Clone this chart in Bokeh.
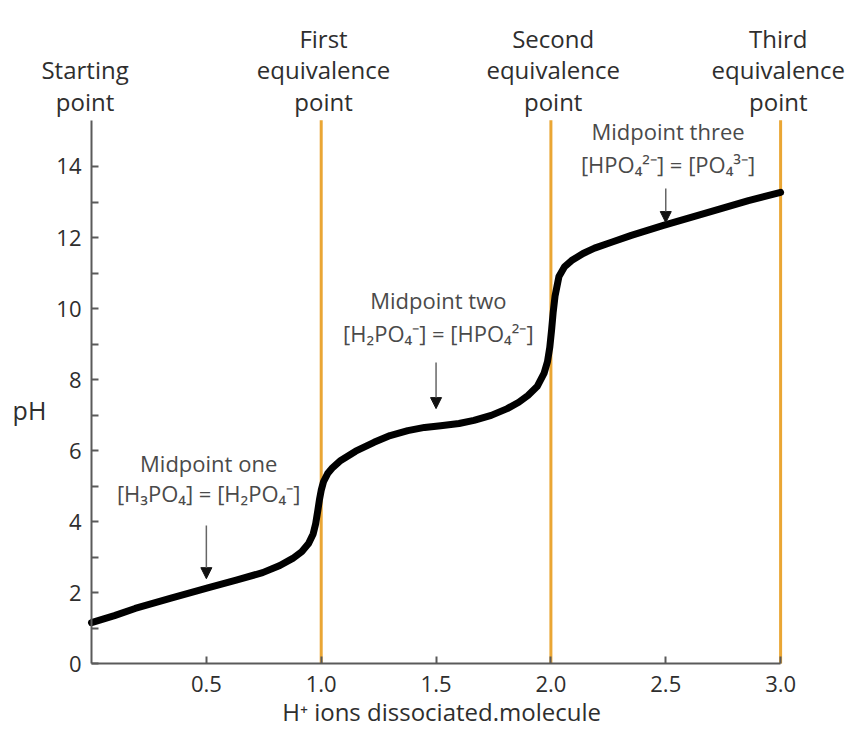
from bokeh.plotting import figure
from bokeh.models import Arrow, NormalHead, FixedTicker
from bokeh.embed import file_html
from bokeh.resources import INLINE
from bokeh.core.properties import value

# ---------------- data ----------------
curve_x = [0.00, 0.10, 0.19, 0.35, 0.51, 0.63, 0.745, 0.82, 0.876, 0.915, 0.945,
           0.965, 0.976, 0.985, 0.992, 1.000, 1.010, 1.028, 1.05, 1.085, 1.15,
           1.23, 1.30, 1.377, 1.45, 1.52, 1.60, 1.665, 1.74, 1.81, 1.86, 1.90,
           1.94, 1.97, 1.985, 1.995, 2.003, 2.010, 2.018, 2.035, 2.06, 2.09,
           2.14, 2.19, 2.27, 2.35, 2.49, 2.67, 2.86, 3.00]
curve_ph = [1.15, 1.35, 1.55, 1.85, 2.14, 2.35, 2.56, 2.76, 2.96, 3.15, 3.38,
            3.65, 3.94, 4.30, 4.60, 4.88, 5.12, 5.35, 5.52, 5.72, 5.98,
            6.23, 6.42, 6.56, 6.65, 6.70, 6.76, 6.85, 6.99, 7.18, 7.36, 7.55,
            7.80, 8.17, 8.50, 8.90, 9.40, 9.90, 10.35, 10.90, 11.18, 11.35,
            11.55, 11.70, 11.88, 12.06, 12.34, 12.68, 13.04, 13.27]

equiv_x = [1.0, 2.0, 3.0]
x_ticks = [0.5, 1.0, 1.5, 2.0, 2.5, 3.0]
x_tick_labels = ["0.5", "1.0", "1.5", "2.0", "2.5", "3.0"]
y_ticks = [0, 2, 4, 6, 8, 10, 12, 14]
y_minor_ticks = [1, 3, 5, 7, 9, 11, 13]

start_label = ["Starting", "point"]
equiv_labels = [["First", "equivalence", "point"],
                ["Second", "equivalence", "point"],
                ["Third", "equivalence", "point"]]

mid_x = [0.5, 1.5, 2.5]
mid_titles = ["Midpoint one", "Midpoint two", "Midpoint three"]
mid_formulas = ["[H\u2083PO\u2084] = [H\u2082PO\u2084\u207b]",
                "[H\u2082PO\u2084\u207b] = [HPO\u2084\u00b2\u207b]",
                "[HPO\u2084\u00b2\u207b] = [PO\u2084\u00b3\u207b]"]

x_title = "H\u207a ions dissociated.molecule"
y_title = "pH"

# ---------------- layout constants ----------------
FONT = "Open Sans"
TXT = "#2e2e2e"
MID = "#4a4a4a"
ORANGE = "#EAA634"
AXIS = "#5a5a5a"
Y_TOP_AXIS = 15.3

p = figure(width=850, height=729, output_backend="svg", toolbar_location=None,
           x_range=(-0.3962, 3.3043), y_range=(-1.859, 18.676),
           min_border=0)
p.grid.visible = False
p.outline_line_color = None
p.background_fill_color = "white"

# axes drawn at the data origin
xa = p.xaxis[0]
xa.ticker = FixedTicker(ticks=x_ticks, minor_ticks=[])
xa.major_label_overrides = {t: l for t, l in zip(x_ticks, x_tick_labels)}
xa.bounds = (0, 3.0)
xa.fixed_location = 0
ya = p.yaxis[0]
ya.ticker = FixedTicker(ticks=y_ticks, minor_ticks=y_minor_ticks)
ya.bounds = (0, Y_TOP_AXIS)
ya.fixed_location = 0
for ax in (xa, ya):
    ax.axis_line_color = AXIS
    ax.axis_line_width = 2
    ax.major_tick_in = 7
    ax.major_tick_out = 0
    ax.minor_tick_in = 7
    ax.minor_tick_out = 0
    ax.major_tick_line_color = AXIS
    ax.minor_tick_line_color = AXIS
    ax.major_tick_line_width = 2
    ax.minor_tick_line_width = 2
    ax.major_label_text_font = FONT
    ax.major_label_text_font_size = "22px"
    ax.major_label_text_color = TXT
xa.major_label_standoff = 12
ya.major_label_standoff = 10

# equivalence lines
p.segment(x0=equiv_x, y0=[0] * 3, x1=equiv_x, y1=[Y_TOP_AXIS] * 3,
          line_color=ORANGE, line_width=3)

# titration curve
p.line(curve_x, curve_ph, line_color="black", line_width=7,
       line_join="round", line_cap="round")

# top labels
line_y = [17.6, 16.73, 15.83]
tx, ty, tt = [], [], []
for ex, lines in zip(equiv_x, equiv_labels):
    for k, s in enumerate(lines):
        tx.append(ex - 0.01 if ex == 3.0 else ex + 0.01)
        ty.append(line_y[k])
        tt.append(s)
for k, s in enumerate(start_label):
    tx.append(-0.028)
    ty.append(line_y[k + 1])
    tt.append(s)
p.text(x=tx, y=ty, text=tt, text_font=value(FONT), text_font_size="24px",
       text_align="center", text_baseline="middle", text_color=TXT)

# midpoint annotations
title_y = [5.66, 10.23, 14.99]
form_y = [4.79, 9.32, 14.08]
arrow_top = [3.89, 8.48, 13.38]
arrow_tip = [2.39, 7.18, 12.42]
p.text(x=[m + 0.01 for m in mid_x], y=title_y, text=mid_titles,
       text_font=value(FONT), text_font_size="22px", text_align="center",
       text_baseline="middle", text_color=MID)
p.text(x=[m + 0.01 for m in mid_x], y=form_y, text=mid_formulas,
       text_font=value(FONT), text_font_size="22px", text_align="center",
       text_baseline="middle", text_color=MID)
for m, a0, a1 in zip(mid_x, arrow_top, arrow_tip):
    p.add_layout(Arrow(x_start=m, y_start=a0, x_end=m, y_end=a1,
                       line_color="#666666", line_width=1.5,
                       end=NormalHead(size=11, fill_color="#111111",
                                      line_color="#111111", line_width=1)))

# axis titles
p.text(x=[-0.27], y=[7.13], text=[y_title], text_font=value(FONT),
       text_font_size="25px", text_align="center", text_baseline="middle",
       text_color=TXT)
p.text(x=[1.524], y=[-1.36], text=[x_title], text_font=value(FONT),
       text_font_size="24px", text_align="center", text_baseline="middle",
       text_color=TXT)

open("out.html", "w").write(file_html(p, INLINE))
